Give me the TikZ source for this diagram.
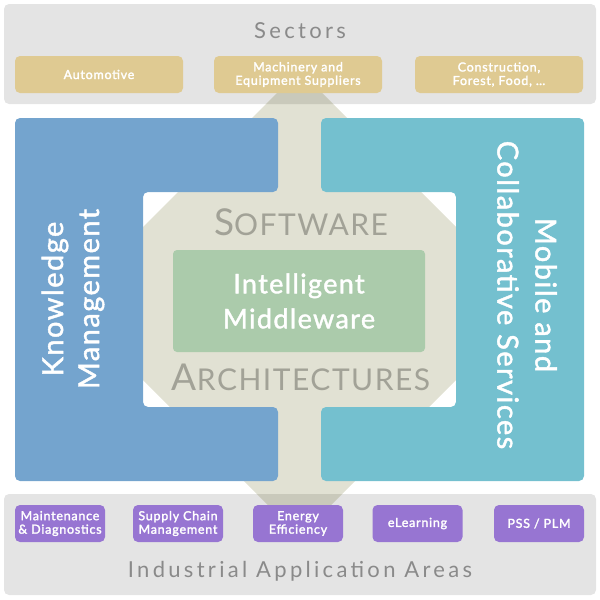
\documentclass[tikz,border=0pt]{standalone}
\usepackage{fontspec}
\setmainfont{Lato}
\newfontfamily\spacedfont[LetterSpace=15]{Lato}
\newfontfamily\boxfont[LetterSpace=6,FakeBold=2]{Lato}
\newfontfamily\midfont[LetterSpace=5,FakeBold=1.5]{Lato}
\newfontfamily\swfont[LetterSpace=5]{Lato}
\definecolor{bandgray}{HTML}{E4E4E4}
\definecolor{sectortan}{HTML}{DFCA92}
\definecolor{areapurple}{HTML}{9775D2}
\definecolor{kmblue}{HTML}{74A4CE}
\definecolor{mcteal}{HTML}{74C0CF}
\definecolor{swbeige}{HTML}{E1E1D3}
\definecolor{swdark}{HTML}{C9C9BB}
\definecolor{imgreen}{HTML}{ABCBAB}
\definecolor{titlegray}{HTML}{8A8A8A}
\definecolor{swgray}{HTML}{A2A297}

\begin{document}
\begin{tikzpicture}[x=1pt,y=-1pt,
  band/.style={fill=bandgray,rounded corners=5pt},
  sectorbox/.style={fill=sectortan,rounded corners=5pt,minimum width=168pt,minimum height=37pt,inner sep=0pt,text=white,align=center,font=\boxfont\fontsize{12.5}{13.5}\selectfont},
  areabox/.style={sectorbox,fill=areapurple,minimum width=90pt},
  titletext/.style={anchor=base,text=titlegray,font=\spacedfont\fontsize{22}{22}\selectfont},
  swtext/.style={anchor=base,text=swgray,font=\swfont},
  sidetext/.style={text=white,align=center,inner sep=0pt}]
\useasboundingbox (0,0) rectangle (600,600);
% bands
\fill[band] (4,4) rectangle (596,104);
\fill[band] (4,494) rectangle (596,595);
% software architectures
\fill[swbeige] (295,75) -- (143,227) -- (143,380) -- (283,520) -- (316,520) -- (456,380) -- (456,227) -- (304,75) -- cycle;
\begin{scope}
\clip (4,4) rectangle (596,104) (4,494) rectangle (596,595);
\fill[swdark] (295,75) -- (143,227) -- (143,380) -- (283,520) -- (316,520) -- (456,380) -- (456,227) -- (304,75) -- cycle;
\end{scope}
% side blocks
\fill[kmblue,rounded corners=5pt] (15,118) -- (278,118) -- (278,192) -- (143,192) -- (143,407) -- (278,407) -- (278,481) -- (15,481) -- cycle;
\fill[mcteal,rounded corners=5pt] (584,118) -- (321,118) -- (321,192) -- (456,192) -- (456,407) -- (321,407) -- (321,481) -- (584,481) -- cycle;
\draw (73,299) node[sidetext,rotate=90,font=\midfont\fontsize{29}{36}\selectfont](km) {Knowledge\\Management};
\draw (527,295) node[sidetext,rotate=-90,font=\midfont\fontsize{29}{38}\selectfont](mc) {Mobile and\\Collaborative Services};
% middle
\draw (299,301) node[fill=imgreen,rounded corners=4pt,minimum width=252pt,minimum height=102pt,text=white,align=center,font=\midfont\fontsize{27}{35}\selectfont](im) {Intelligent\\Middleware};
\draw (301,235) node[swtext](sw) {{\fontsize{37}{37}\selectfont S}{\fontsize{30}{30}\selectfont OFTWARE}};
\draw (301,390) node[swtext](arch) {{\fontsize{37}{37}\selectfont A}{\fontsize{30}{30}\selectfont RCHITECTURES}};
% sectors
\draw (300,38) node[titletext](sectors) {Sectors};
\draw (99,74.5) node[sectorbox](auto) {Automotive};
\draw (298,74.5) node[sectorbox](mach) {Machinery and\\Equipment Suppliers};
\draw (499,74.5) node[sectorbox](constr) {Construction,\\Forest, Food, \dots};
% application areas
\draw (300,577) node[titletext](areas) {Industrial Application Areas};
\draw (60,523.5) node[areabox](maint) {Maintenance\\\& Diagnostics};
\draw (178,523.5) node[areabox](scm) {Supply Chain\\Management};
\draw (298,523.5) node[areabox](energy) {Energy\\Efficiency};
\draw (417.5,523.5) node[areabox](elearn) {eLearning};
\draw (539,523.5) node[areabox](pss) {PSS / PLM};
\end{tikzpicture}
\end{document}
